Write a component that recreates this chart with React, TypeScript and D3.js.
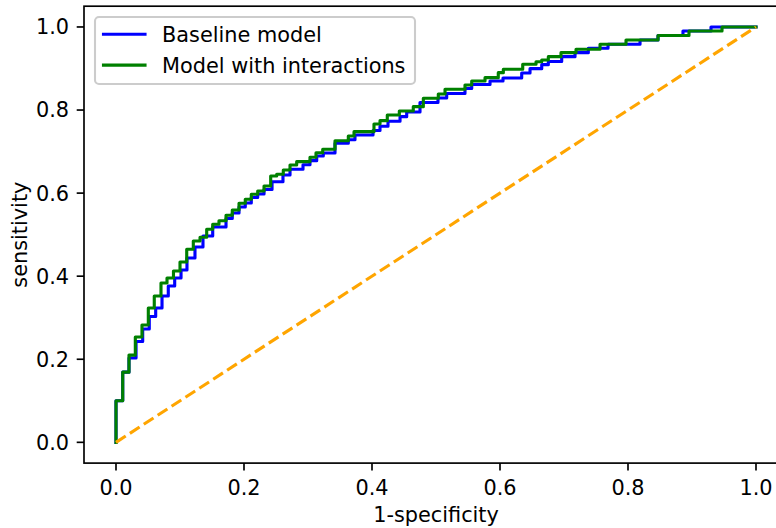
import React from "react";
import * as d3 from "d3";

// ROC curve for the baseline model (false positive rate, true positive rate)
const baselineFpr = [0, 0, 0.0105, 0.0203, 0.0313, 0.0417, 0.052, 0.062, 0.0719, 0.0817, 0.0917, 0.1016, 0.1109, 0.1234, 0.1359, 0.1511, 0.1719, 0.1817, 0.1922, 0.202, 0.2114, 0.2214, 0.2313, 0.2438, 0.2609, 0.2719, 0.2922, 0.3031, 0.3136, 0.3239, 0.3422, 0.363, 0.3734, 0.4016, 0.4125, 0.425, 0.4438, 0.4542, 0.475, 0.5031, 0.5167, 0.5453, 0.5558, 0.5844, 0.6047, 0.6339, 0.6469, 0.6652, 0.6755, 0.6964, 0.7172, 0.738, 0.7688, 0.8188, 0.8469, 0.8859, 0.9297, 1];
const baselineTpr = [0, 0.1, 0.169, 0.203, 0.2427, 0.2728, 0.3029, 0.3234, 0.3523, 0.3764, 0.3956, 0.4149, 0.4438, 0.4703, 0.4967, 0.5184, 0.5389, 0.5521, 0.5666, 0.5762, 0.5894, 0.5979, 0.6087, 0.6275, 0.6436, 0.6574, 0.6684, 0.6781, 0.6894, 0.6966, 0.72, 0.7286, 0.7399, 0.7508, 0.7609, 0.7729, 0.784, 0.7953, 0.8182, 0.829, 0.8399, 0.8519, 0.8615, 0.87, 0.8772, 0.8892, 0.8996, 0.9092, 0.9169, 0.9285, 0.9381, 0.9487, 0.9583, 0.9687, 0.9795, 0.9904, 1, 1];

// ROC curve for the model with interactions
const interFpr = [0, 0, 0.0105, 0.0203, 0.0302, 0.0406, 0.0505, 0.0598, 0.0703, 0.0797, 0.0898, 0.1, 0.1105, 0.1208, 0.1313, 0.1417, 0.1511, 0.1609, 0.1719, 0.1817, 0.1922, 0.202, 0.2114, 0.2214, 0.2313, 0.2417, 0.2511, 0.2614, 0.2719, 0.2823, 0.3031, 0.3125, 0.323, 0.3422, 0.363, 0.3719, 0.4031, 0.4125, 0.4239, 0.4427, 0.4645, 0.4802, 0.5036, 0.5141, 0.5453, 0.5558, 0.5766, 0.5973, 0.6052, 0.6355, 0.6563, 0.6652, 0.6755, 0.6953, 0.7188, 0.7563, 0.7969, 0.8469, 0.8953, 0.9469, 1];
const interTpr = [0, 0.1, 0.169, 0.21, 0.2536, 0.2824, 0.3234, 0.3523, 0.3836, 0.3956, 0.4125, 0.4341, 0.4647, 0.4847, 0.4936, 0.5129, 0.5249, 0.5336, 0.5466, 0.5594, 0.5755, 0.5851, 0.5972, 0.6051, 0.6171, 0.6412, 0.6453, 0.6557, 0.6677, 0.6757, 0.6862, 0.6973, 0.7055, 0.7262, 0.7375, 0.7479, 0.7664, 0.7744, 0.7881, 0.7977, 0.8081, 0.8283, 0.8387, 0.85, 0.8603, 0.87, 0.8779, 0.89, 0.8981, 0.9102, 0.9164, 0.9205, 0.9285, 0.9381, 0.9463, 0.9583, 0.9687, 0.9795, 0.9904, 1, 1];

const chanceX = [0, 1];
const chanceY = [0, 1];

const tickValues = [0, 0.2, 0.4, 0.6, 0.8, 1.0];
const tickLabels = ["0.0", "0.2", "0.4", "0.6", "0.8", "1.0"];
const seriesNames = ["Baseline model", "Model with interactions"];
const seriesColors = ["#0000ff", "#008000"];

const FS = 20.83;
const FONT = "'DejaVu Sans', sans-serif";

export default function App() {
  const x = d3.scaleLinear().domain([-0.05, 1.05]).range([84, 788]);
  const y = d3.scaleLinear().domain([-0.05, 1.05]).range([463.1, 6.2]);

  const line = d3
    .line<[number, number]>()
    .x((d) => x(d[0]))
    .y((d) => y(d[1]))
    .curve(d3.curveStepAfter);
  const straight = d3
    .line<[number, number]>()
    .x((d) => x(d[0]))
    .y((d) => y(d[1]));

  const basePts = baselineFpr.map((f, i) => [f, baselineTpr[i]] as [number, number]);
  const interPts = interFpr.map((f, i) => [f, interTpr[i]] as [number, number]);
  const chancePts = chanceX.map((f, i) => [f, chanceY[i]] as [number, number]);

  const left = x(-0.05);
  const right = x(1.05);
  const top = y(1.05);
  const bottom = y(-0.05);
  const tickLen = 7.3;

  return (
    <svg
      width={776}
      height={528}
      style={{ position: "absolute", left: 0, top: 0, background: "#fff" }}
      fontFamily={FONT}
    >
      <rect x={0} y={0} width={776} height={528} fill="#fff" />
      {/* curves */}
      <path d={line(basePts) || ""} fill="none" stroke={seriesColors[0]} strokeWidth={3.125} strokeLinejoin="round" strokeLinecap="square" />
      <path d={line(interPts) || ""} fill="none" stroke={seriesColors[1]} strokeWidth={3.125} strokeLinejoin="round" strokeLinecap="square" />
      <path d={straight(chancePts) || ""} fill="none" stroke="#ffa500" strokeWidth={3.125} strokeDasharray="11.56 5" />

      {/* spines */}
      <rect x={left} y={top} width={right - left} height={bottom - top} fill="none" stroke="#000" strokeWidth={1.67} />

      {/* x ticks */}
      {tickValues.map((v, i) => (
        <g key={"xt" + i}>
          <line x1={x(v)} x2={x(v)} y1={bottom} y2={bottom + tickLen} stroke="#000" strokeWidth={1.67} />
          <text x={x(v)} y={494.5} textAnchor="middle" fontSize={FS} fill="#000">
            {tickLabels[i]}
          </text>
        </g>
      ))}
      {/* y ticks */}
      {tickValues.map((v, i) => (
        <g key={"yt" + i}>
          <line x1={left - tickLen} x2={left} y1={y(v)} y2={y(v)} stroke="#000" strokeWidth={1.67} />
          <text x={69} y={y(v) + 7.4} textAnchor="end" fontSize={FS} fill="#000">
            {tickLabels[i]}
          </text>
        </g>
      ))}

      {/* axis labels */}
      <text x={(left + right) / 2} y={522} textAnchor="middle" fontSize={FS} fill="#000">
        1-specificity
      </text>
      <text
        transform={`translate(26.5, ${(top + bottom) / 2}) rotate(-90)`}
        textAnchor="middle"
        fontSize={FS}
        fill="#000"
      >
        sensitivity
      </text>

      {/* legend */}
      <rect x={95} y={17} width={320} height={67} rx={4} ry={4} fill="#fff" fillOpacity={0.8} stroke="#cccccc" strokeWidth={2.08} />
      {seriesNames.map((name, i) => {
        const ly = 34.3 + i * 30.8;
        return (
          <g key={"lg" + i}>
            <line x1={103.5} x2={145} y1={ly} y2={ly} stroke={seriesColors[i]} strokeWidth={3.125} strokeLinecap="square" />
            <text x={162} y={ly + 7.4} fontSize={FS} fill="#000">
              {name}
            </text>
          </g>
        );
      })}
    </svg>
  );
}
